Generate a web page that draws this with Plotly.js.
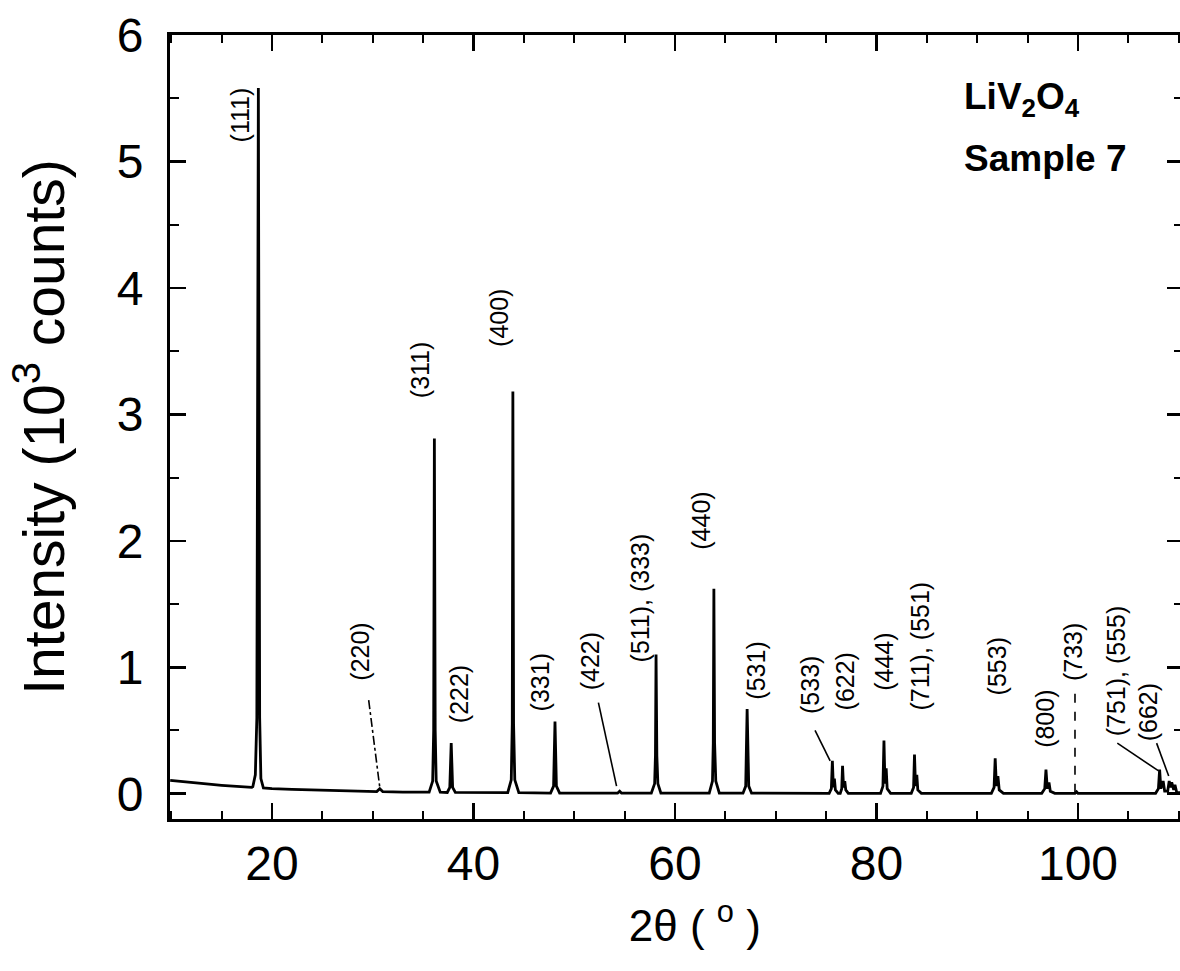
<!DOCTYPE html>
<html>
<head>
<meta charset="utf-8">
<script src="https://cdn.plot.ly/plotly-3.0.1.min.js"></script>
<style>
html,body{margin:0;padding:0;background:#fff;overflow:hidden;}
#chart{width:1186px;height:971px;}
</style>
</head>
<body>
<div id="chart"></div>
<script>
const twoTheta = [
  9.9, 11, 12, 13, 14, 15, 16, 17, 18,
  18.1, 18.35, 18.5, 18.65, 18.78, 18.9, 19.15,
  20, 22, 25, 28, 30.4, 30.7, 31.0, 33, 35.5,
  35.6, 35.95, 36.05, 36.12, 36.2, 36.3, 36.7,
  37.4, 37.65, 37.79, 37.93, 38.2,
  40,
  43.4, 43.75, 43.85, 43.91, 43.98, 44.1, 44.5,
  47.65, 47.95, 48.09, 48.23, 48.55,
  54.3, 54.51, 54.7,
  57.65, 57.98, 58.06, 58.12, 58.2, 58.3, 58.6,
  63.4, 63.72, 63.8, 63.86, 63.93, 64.05, 64.4,
  66.75, 67.02, 67.16, 67.25, 67.32, 67.6,
  75.3, 75.52, 75.62, 75.72, 75.82, 75.92, 76.2,
  76.4, 76.55, 76.63, 76.73, 76.85, 76.95, 77.2,
  80.4, 80.64, 80.74, 80.84, 80.96, 81.06, 81.4,
  83.45, 83.68, 83.77, 83.87, 84.0, 84.1, 84.45,
  91.4, 91.67, 91.78, 91.9, 92.05, 92.18, 92.6,
  96.4, 96.7, 96.82, 96.95, 97.12, 97.25, 97.7,
  99.7, 99.86, 100.0,
  107.7, 107.98, 108.1, 108.22, 108.45, 108.6,
  108.9, 109.05, 109.17, 109.3, 109.5, 109.62, 109.8, 110.42
];
const intensity = [
  0.105, 0.095, 0.088, 0.080, 0.073, 0.066, 0.060, 0.055, 0.050,
  0.055, 0.15, 0.60, 5.58, 0.60, 0.12, 0.045,
  0.040, 0.035, 0.028, 0.020, 0.017, 0.040, 0.016, 0.012, 0.010,
  0.012, 0.10, 0.50, 2.81, 0.50, 0.10, 0.012,
  0.010, 0.05, 0.40, 0.05, 0.010,
  0.008,
  0.008, 0.11, 0.55, 3.18, 0.55, 0.11, 0.008,
  0.005, 0.06, 0.57, 0.06, 0.005,
  0.004, 0.020, 0.004,
  0.004, 0.08, 0.30, 1.10, 0.30, 0.08, 0.004,
  0.004, 0.10, 0.40, 1.62, 0.40, 0.10, 0.004,
  0.004, 0.06, 0.67, 0.20, 0.06, 0.004,
  0.003, 0.04, 0.26, 0.05, 0.12, 0.03, 0.003,
  0.003, 0.04, 0.22, 0.05, 0.10, 0.03, 0.003,
  0.003, 0.06, 0.42, 0.08, 0.20, 0.04, 0.003,
  0.003, 0.05, 0.31, 0.06, 0.15, 0.03, 0.003,
  0.003, 0.05, 0.28, 0.06, 0.14, 0.03, 0.003,
  0.003, 0.04, 0.19, 0.04, 0.09, 0.02, 0.003,
  0.003, 0.015, 0.003,
  0.003, 0.04, 0.19, 0.04, 0.10, 0.02,
  0.02, 0.10, 0.05, 0.09, 0.03, 0.07, 0.01, 0.005
];

// peak index labels
const peakLabels = ["(111)", "(220)", "(311)", "(222)", "(400)", "(331)", "(422)",
  "(511), (333)", "(440)", "(531)", "(533)", "(622)", "(444)", "(711), (551)",
  "(553)", "(800)", "(733)", "(751), (555)", "(662)"];
const labelX = [16.8, 28.7, 34.7, 38.5, 42.6, 46.6, 51.6, 56.5, 62.5, 68.0,
  73.4, 76.9, 80.8, 84.3, 92.0, 96.7, 99.5, 103.8, 106.9];
const labelY = [5.37, 1.12, 3.35, 0.79, 3.76, 0.88, 1.05, 1.55, 2.16, 0.97,
  0.86, 0.89, 1.04, 1.17, 1.01, 0.59, 1.12, 0.97, 0.64];

// leader lines from label to peak
const leaderX0 = [29.6, 52.4, 73.9, 99.7, 103.9, 107.8];
const leaderY0 = [0.74, 0.72, 0.50, 0.79, 0.40, 0.40];
const leaderX1 = [30.7, 54.2, 75.4, 99.7, 108.0, 109.0];
const leaderY1 = [0.05, 0.06, 0.26, 0.00, 0.18, 0.14];
const leaderDash = ["dashdot", "solid", "solid", "dash", "solid", "solid"];

const xTicks = [20, 40, 60, 80, 100];
const yTicks = [0, 1, 2, 3, 4, 5, 6];

const FONT = "Liberation Sans, Arial, Helvetica, sans-serif";

const trace = {
  x: twoTheta, y: intensity, type: "scatter", mode: "lines",
  line: {color: "#000", width: 2.8}, hoverinfo: "skip"
};

const annotations = peakLabels.map((t, i) => ({
  x: labelX[i], y: labelY[i], xref: "x", yref: "y", text: t,
  showarrow: false, textangle: -90,
  font: {family: FONT, size: 25, color: "#000"}
}));
annotations.push({
  xref: "paper", yref: "paper", x: 0.782, y: 0.918, xanchor: "left", yanchor: "middle",
  text: "<b>LiV<sub>2</sub>O<sub>4</sub></b>", showarrow: false,
  font: {family: FONT, size: 37, color: "#000"}
});
annotations.push({
  xref: "paper", yref: "paper", x: 0.782, y: 0.843, xanchor: "left", yanchor: "middle",
  text: "<b>Sample 7</b>", showarrow: false,
  font: {family: FONT, size: 37, color: "#000"}
});

const shapes = leaderX0.map((x0, i) => ({
  type: "line", xref: "x", yref: "y",
  x0: x0, y0: leaderY0[i], x1: leaderX1[i], y1: leaderY1[i],
  line: {color: "#000", width: 1.6, dash: leaderDash[i]}
}));

const axisCommon = {
  showgrid: false, zeroline: false, showline: true, linecolor: "#000", linewidth: 3,
  mirror: "allticks", ticks: "inside", tickcolor: "#000", tickwidth: 2.5, ticklen: 16,
  tickfont: {family: FONT, size: 48, color: "#000"}
};

const layout = {
  width: 1186, height: 971,
  margin: {l: 170, r: 3, t: 35, b: 152},
  paper_bgcolor: "#fff", plot_bgcolor: "#fff",
  showlegend: false,
  xaxis: Object.assign({}, axisCommon, {
    range: [9.88, 110.42], tickvals: xTicks, ticktext: xTicks.map(String),
    ticklabelstandoff: 0,
    minor: {dtick: 5, ticks: "inside", ticklen: 8, tickwidth: 2, tickcolor: "#000"},
    title: {text: "&nbsp;&nbsp;&nbsp;2θ ( <sup>o</sup> )", font: {family: FONT, size: 44, color: "#000"}, standoff: 22}
  }),
  yaxis: Object.assign({}, axisCommon, {
    range: [-0.2, 6], tickvals: yTicks, ticktext: yTicks.map(String),
    ticklabelstandoff: 14,
    minor: {dtick: 0.5, ticks: "inside", ticklen: 9, tickwidth: 2, tickcolor: "#000"},
    title: {text: "Intensity (10<sup>3</sup> counts)", font: {family: FONT, size: 57, color: "#000"}, standoff: 34}
  }),
  annotations: annotations,
  shapes: shapes
};

Plotly.newPlot("chart", [trace], layout, {staticPlot: true, displayModeBar: false});
</script>
</body>
</html>
